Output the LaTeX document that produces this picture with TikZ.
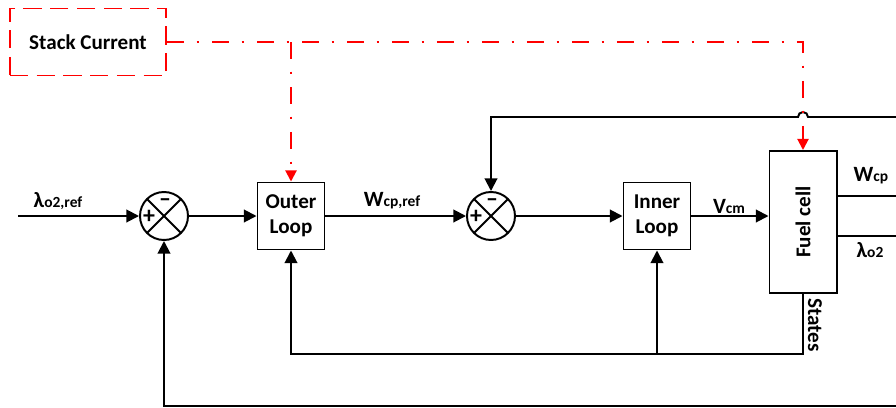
\documentclass[tikz,border=0pt]{standalone}
\usepackage{fontspec}
\setmainfont{Carlito}
\usetikzlibrary{arrows.meta, positioning, calc}

\newcommand{\bigsym}[1]{{\fontsize{15.5}{17}\selectfont #1}}
\newcommand{\subsym}[1]{{\fontsize{11}{13}\selectfont #1}}

\begin{document}
\begin{tikzpicture}[
    x=0.025cm, y=-0.025cm,
    >={Triangle[length=9pt, width=9pt]},
    font=\fontsize{15}{17.5}\selectfont\bfseries,
    % Define styles for the different node types
    blockbox/.style={rectangle, draw, fill=white, line width=1.4pt, align=center, minimum width=1.675cm, minimum height=1.675cm, inner sep=1pt},
    sumnode/.style={circle, draw, fill=white, line width=1.4pt, minimum size=1.2cm, inner sep=0pt,
        path picture={\draw[line width=1.4pt] (path picture bounding box.north west) -- (path picture bounding box.south east)
            (path picture bounding box.north east) -- (path picture bounding box.south west);}},
    signsym/.style={inner sep=0pt, font=\fontsize{17}{17}\selectfont\bfseries},
    sourcebox/.style={rectangle, draw=red, fill=white, line width=1.4pt, dash pattern=on 13pt off 6pt, minimum width=3.9cm, minimum height=1.675cm},
    signal/.style={->, line width=1.4pt},
    wire/.style={line width=1.4pt},
    current/.style={->, draw=red, line width=1.4pt, dash pattern=on 12pt off 9pt on 2pt off 9pt, >={Triangle[length=8pt, width=8pt]}},
]
\useasboundingbox (0,0) rectangle (896,408);

% -------------------------
% Main Flow Nodes
% -------------------------
\node (source) [sourcebox] at (88,42) {Stack Current};

\coordinate (input) at (18,216);
\node (sum1) [sumnode] at (164,216) {};
\node (outer) [blockbox] at (291,216) {Outer\\Loop};
\node (sum2) [sumnode] at (491,216) {};
\node (inner) [blockbox] at (657,216) {Inner\\Loop};
\node (fuel) [blockbox, minimum height=3.55cm] at (803,222) {};
\node (fuellabel) [rotate=90] at (fuel.center) {Fuel cell};

% Signs in the summing junctions
\node (sum1plus) [signsym] at ($(sum1.center)+(-15,1)$) {+};
\node (sum1minus) [signsym] at ($(sum1.center)+(1,-13)$) {\textendash};
\node (sum2plus) [signsym] at ($(sum2.center)+(-15,1)$) {+};
\node (sum2minus) [signsym] at ($(sum2.center)+(1,-13)$) {\textendash};

% Edge points on the right
\coordinate (wcpout) at (896,196);
\coordinate (lamout) at (896,236);
\coordinate (topright) at (896,117);
\coordinate (botright) at (896,406);
\coordinate (statesbot) at ($(fuel.south)+(0,60)$);

% -------------------------
% Signal Labels
% -------------------------
\node (lamref) at (58,201) {\bigsym{λ}\subsym{o2,ref}};
\node (wcpref) at (392,201) {\bigsym{W}\subsym{cp,ref}};
\node (vcm) at (729,206) {\bigsym{V}\subsym{cm}};
\node (wcp) at (871,176) {\bigsym{W}\subsym{cp}};
\node (lamo2) at (870,250) {\bigsym{λ}\subsym{o2}};
\node (states) [rotate=-90] at (815,325) {States};

% -------------------------
% Arrow Connections
% -------------------------

% Forward path
\draw[signal] (input) -- (sum1.west);
\draw[signal] (sum1.east) -- (outer.west);
\draw[signal] (outer.east) -- (sum2.west);
\draw[signal] (sum2.east) -- (inner.west);
\draw[signal] (inner.east) -- (inner.east -| fuel.west);

% Outputs
\draw[wire] (fuel.east |- wcpout) -- (wcpout);
\draw[wire] (fuel.east |- lamout) -- (lamout);

% Top feedback with a hop over the current line
\draw[signal] (topright) -- ($(fuel.north |- topright)+(5,0)$) arc[start angle=0, end angle=-180, radius=5]
    -- (sum2.north |- topright) -- (sum2.north);

% States feedback
\draw[signal] (fuel.south) -- (statesbot) -| (outer.south);
\draw[signal] (inner.south |- statesbot) -- (inner.south);

% Outer feedback
\draw[signal] (botright) -| (sum1.south);

% Stack current (dash-dot)
\draw[current] (source.east) -- (fuel.north |- source.east) -- (fuel.north);
\draw[current] (outer.north |- source.east) -- (outer.north);

\end{tikzpicture}
\end{document}
